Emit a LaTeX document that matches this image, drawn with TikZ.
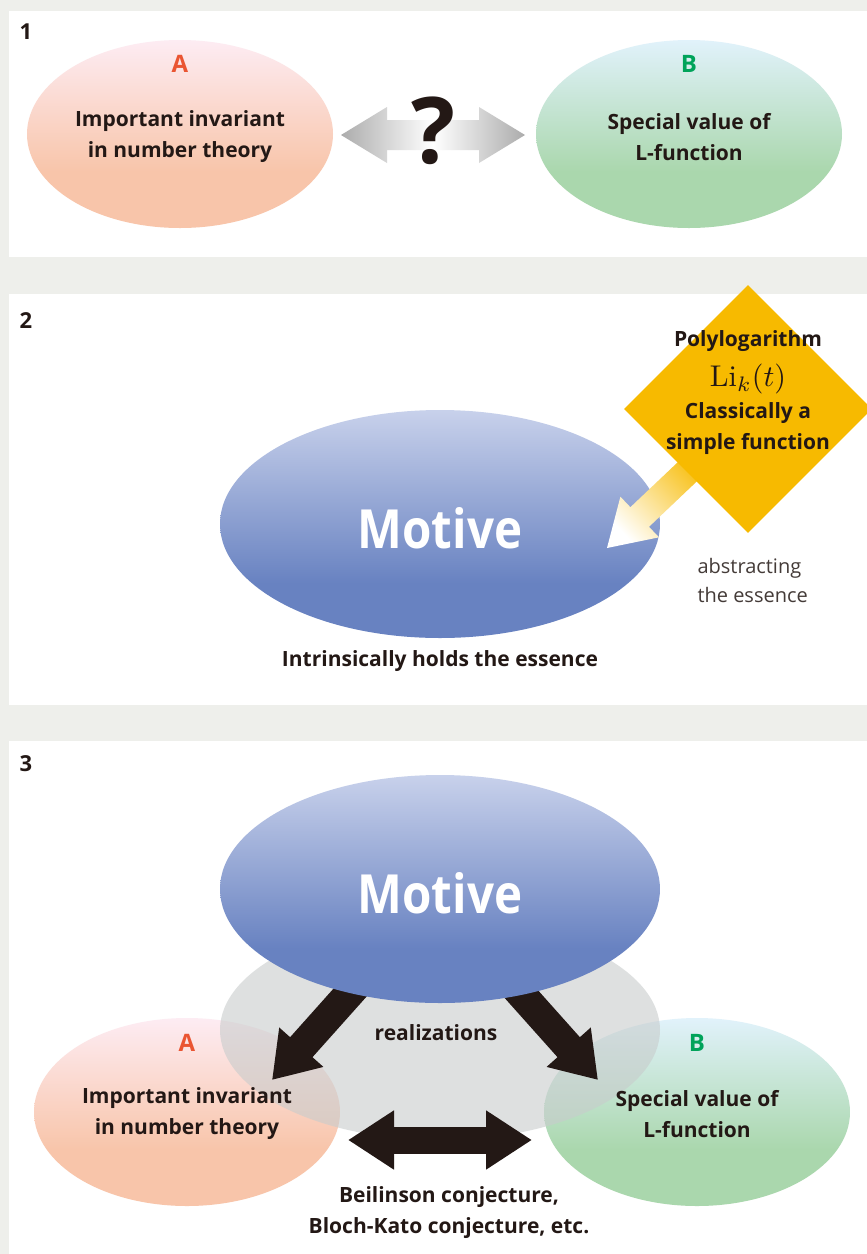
\documentclass[tikz,border=0pt]{standalone}
\usepackage{fontspec}
\setsansfont{Open Sans}
\usetikzlibrary{arrows.meta,shapes.geometric}

\definecolor{bgc}{RGB}{238,239,235}
\definecolor{ink}{RGB}{35,24,21}
\definecolor{redA}{RGB}{234,85,50}
\definecolor{greenB}{RGB}{0,163,90}
\definecolor{peachA}{RGB}{248,197,170}
\definecolor{pinkA}{RGB}{253,236,243}
\definecolor{greenlo}{RGB}{170,215,173}
\definecolor{bluehi}{RGB}{225,242,251}
\definecolor{motlo}{RGB}{104,130,193}
\definecolor{mothi}{RGB}{200,209,235}
\definecolor{yel}{RGB}{247,186,0}
\definecolor{haze}{RGB}{200,204,204}
\definecolor{arrgray}{RGB}{172,172,172}

\pgfdeclareverticalshading{shA}{100bp}{color(0bp)=(peachA); color(40bp)=(peachA); color(75bp)=(pinkA); color(100bp)=(pinkA)}
\pgfdeclareverticalshading{shB}{100bp}{color(0bp)=(greenlo); color(40bp)=(greenlo); color(75bp)=(bluehi); color(100bp)=(bluehi)}
\pgfdeclareverticalshading{shM}{100bp}{color(0bp)=(motlo); color(37bp)=(motlo); color(75bp)=(mothi); color(100bp)=(mothi)}

\begin{document}
\begin{tikzpicture}[x=1pt,y=-1pt,
    blob/.style={ellipse,shade,inner sep=0pt,minimum width=306pt,minimum height=188pt},
    motive/.style={ellipse,shade,shading=shM,inner sep=0pt,minimum width=440pt,minimum height=228pt},
    lbl/.style={font=\sffamily\bfseries\fontsize{21}{31}\selectfont,text=ink,align=center},
    num/.style={font=\sffamily\bfseries\fontsize{22}{26}\selectfont,text=ink},
    letr/.style={font=\sffamily\bfseries\fontsize{24}{28}\selectfont},
    bigword/.style={font=\sffamily\bfseries\fontsize{54}{60}\selectfont,text=white,xscale=0.88}]
    \useasboundingbox (0,0) rectangle (867,1254);
    \clip (0,0) rectangle (867,1254);
    \fill[bgc] (0,0) rectangle (867,1254);
    \fill[white] (9,11) rectangle (867,257);
    \fill[white] (9,294) rectangle (867,705);
    \fill[white] (9,741) rectangle (867,1254);

    % 1
    \node[num] (n1) at (26,32) {1};
    \node[blob,shading=shA] (invA) at (180,134) {};
    \node[blob,shading=shB] (valB) at (689,134) {};
    \node[letr,text=redA] (labA) at (180,64) {A};
    \node[letr,text=greenB] (labB) at (689,64) {B};
    \node[lbl] (txtA) at (180,137) {Important invariant\\in number theory};
    \node[lbl] (txtB) at (689,137) {Special value of\\L-function};
    \shade[left color=arrgray,right color=arrgray,middle color=white]
        (341,135) -- (387,107) -- (387,120) -- (479,120) -- (479,107) -- (525,135)
        -- (479,163) -- (479,150) -- (387,150) -- (387,163) -- cycle;
    \node[font=\sffamily\bfseries\fontsize{92}{96}\selectfont,text=ink,anchor=base] (quest) at (433,163) {?};

    % 2
    \node[num] (n2) at (26,321) {2};
    \node[motive] (mot2) at (440,524) {};
    \node[bigword] (motT2) at (440,528) {Motive};
    \shade[top color=yel,bottom color=white,shading angle=-47]
        (695.7,445.2) -- (630.4,507.2) -- (620.4,496.7) -- (607,548) -- (659,537.3)
        -- (649,526.8) -- (714.3,464.8) -- cycle;
    \node[diamond,fill=yel,inner sep=0pt,minimum width=248pt,minimum height=248pt] (dia) at (748,409) {};
    \node[lbl] (poly) at (748,341) {Polylogarithm};
    \node[text=ink,scale=3.0] (lik) at (748,379) {$\mathrm{Li}_k(t)$};
    \node[lbl] (classic) at (748,429) {Classically a\\simple function};
    \node[font=\sffamily\fontsize{20}{29}\selectfont,text=ink!85,align=left,anchor=west] (abstr) at (694,580) {abstracting\\the essence};
    \node[lbl] (holds) at (440,661) {Intrinsically holds the essence};

    % 3
    \node[num] (n3) at (26,764) {3};
    \node[blob,shading=shA] (invA3) at (187,1112) {};
    \node[blob,shading=shB] (valB3) at (697,1112) {};
    \node[ellipse,fill=haze,fill opacity=0.6,inner sep=0pt,minimum width=440pt,minimum height=220pt] (glow) at (440,1030) {};
    \coordinate (tailL) at (372,968);
    \coordinate (tipL) at (272,1080);
    \coordinate (tailR) at (498,968);
    \coordinate (tipR) at (598,1080);
    \draw[ink,line width=30pt,-{Triangle[length=44pt,width=56pt]}] (tailL) -- (tipL);
    \draw[ink,line width=30pt,-{Triangle[length=44pt,width=56pt]}] (tailR) -- (tipR);
    \node[motive] (mot3) at (440,889) {};
    \node[bigword] (motT3) at (440,893) {Motive};
    \node[letr,text=redA] (labA3) at (187,1043) {A};
    \node[letr,text=greenB] (labB3) at (697,1043) {B};
    \node[lbl] (txtA3) at (187,1114) {Important invariant\\in number theory};
    \node[lbl] (txtB3) at (697,1114) {Special value of\\L-function};
    \node[lbl] (real) at (436,1033) {realizations};
    \coordinate (dl) at (348,1140);
    \coordinate (dr) at (532,1140);
    \draw[ink,line width=27pt,{Triangle[length=46pt,width=56pt]}-{Triangle[length=46pt,width=56pt]}] (dl) -- (dr);
    \node[lbl] (conj) at (449,1213) {Beilinson conjecture,\\Bloch-Kato conjecture, etc.};
\end{tikzpicture}
\end{document}
